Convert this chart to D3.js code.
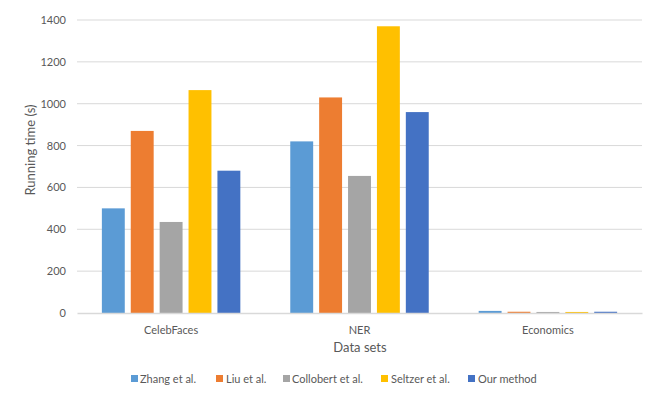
<!DOCTYPE html>
<html><head><meta charset="utf-8">
<script src="https://cdn.jsdelivr.net/npm/d3@7"></script>
<style>body{margin:0;background:#fff}svg{display:block}</style>
</head><body>
<svg id="c" width="664" height="395"></svg>
<script>
const categories = ["CelebFaces", "NER", "Economics"];
const seriesNames = ["Zhang et al.", "Liu et al.", "Collobert et al.", "Seltzer et al.", "Our method"];
const zhang = [500, 820, 10];
const liu = [870, 1030, 6];
const collobert = [435, 655, 5];
const seltzer = [1065, 1370, 5];
const ours = [680, 960, 6];
const yTicks = [0, 200, 400, 600, 800, 1000, 1200, 1400];
const colors = ["#5B9BD5", "#ED7D31", "#A5A5A5", "#FFC000", "#4472C4"];

const allSeries = [zhang, liu, collobert, seltzer, ours];
const font = "Lato, 'Liberation Sans', sans-serif";
const svg = d3.select("#c");

const x0 = d3.scaleBand().domain(categories).range([77, 642]).paddingInner(0.265).paddingOuter(0.132);
const x1 = d3.scaleBand().domain(seriesNames).range([0, x0.bandwidth()]).paddingInner(0.207).paddingOuter(0);
const y = d3.scaleLinear().domain([0, 1400]).range([313, 20]);

// gridlines
svg.append("g").selectAll("line").data(yTicks.filter(d => d > 0)).join("line")
  .attr("x1", 77).attr("x2", 642)
  .attr("y1", d => y(d)).attr("y2", d => y(d))
  .attr("stroke", "#d9d9d9").attr("stroke-width", 1);

// y tick labels
const yAxis = d3.axisLeft(y).tickValues(yTicks).tickFormat(d3.format("d")).tickSize(0).tickPadding(11);
const ya = svg.append("g").attr("transform", "translate(77,0)").call(yAxis);
ya.select(".domain").remove();
ya.selectAll("text").attr("fill", "#595959").style("font-family", font).style("font-size", "11px");

// bars
const g = svg.append("g");
categories.forEach((cat, ci) => {
  allSeries.forEach((s, si) => {
    g.append("rect")
      .attr("x", x0(cat) + x1(seriesNames[si]))
      .attr("width", x1.bandwidth())
      .attr("y", y(s[ci]))
      .attr("height", y(0) - y(s[ci]))
      .attr("fill", colors[si]);
  });
});

// x axis
const xAxis = d3.axisBottom(x0).tickSize(0).tickPadding(13);
const xa = svg.append("g").attr("transform", `translate(0,${y(0)})`).call(xAxis);
xa.select(".domain").attr("stroke", "#d9d9d9").attr("stroke-width", 1.5);
xa.selectAll("text").attr("fill", "#595959").style("font-family", font).style("font-size", "11px");

// axis titles
svg.append("text").attr("x", 360).attr("y", 352).attr("text-anchor", "middle")
  .attr("fill", "#595959").style("font-family", font).style("font-size", "13px").text("Data sets");
svg.append("text").attr("transform", "translate(35,150) rotate(-90)").attr("text-anchor", "middle")
  .attr("fill", "#595959").style("font-family", font).style("font-size", "13px").text("Running time (s)");

// legend
const legX = [131, 216, 283, 381, 468];
const legTX = [140, 226, 292, 391, 478];
seriesNames.forEach((n, i) => {
  svg.append("rect").attr("x", legX[i]).attr("y", 375).attr("width", 7).attr("height", 7).attr("fill", colors[i]);
  svg.append("text").attr("x", legTX[i]).attr("y", 382.5).attr("fill", "#595959")
    .style("font-family", font).style("font-size", "11px").text(n);
});
</script>
</body></html>
